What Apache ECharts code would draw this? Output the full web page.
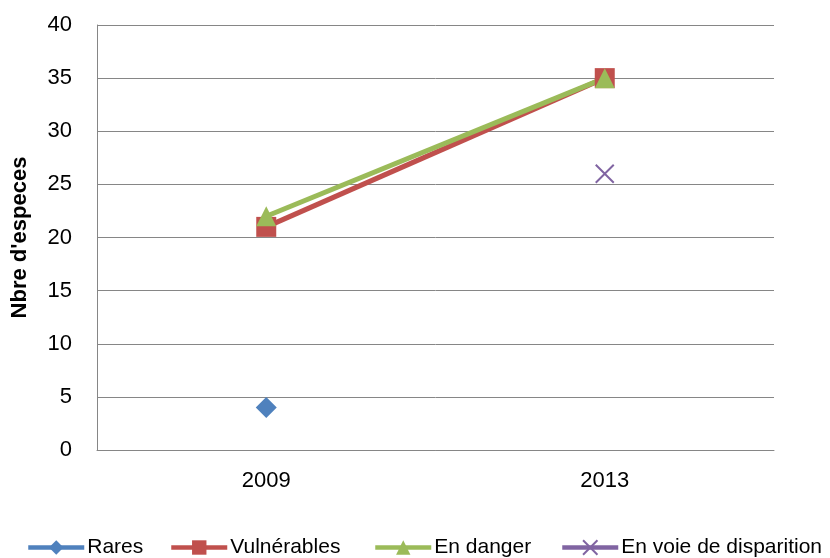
<!DOCTYPE html>
<html>
<head>
<meta charset="utf-8">
<script src="https://cdn.jsdelivr.net/npm/echarts@6/dist/echarts.min.js"></script>
<style>
  html, body { margin: 0; padding: 0; background: #fff; }
  #chart { width: 830px; height: 558px; }
</style>
</head>
<body>
<div id="chart"></div>
<script>
// Species counts per conservation status
const years = ['2009', '2013'];
const rares = [4, null];
const vulnerables = [21, 35];
const enDanger = [22, 35];
const enVoie = [null, 26];
const yTicks = { min: 0, max: 40, interval: 5 };

const FONT = 'Liberation Sans';
const crossPath = 'path://M0,0L10,10M10,0L0,10';

const chart = echarts.init(document.getElementById('chart'), null, { renderer: 'canvas' });

// one legend block per series so each entry sits at its own x
function legendAt(name, left) {
  return {
    data: [name],
    left: left,
    top: 537,
    padding: 0,
    itemWidth: 56,
    itemHeight: 18,
    itemGap: 0,
    lineStyle: { width: 4.5 },
    textStyle: { fontFamily: FONT, fontSize: 21, color: '#000', padding: [0, 0, 0, -2] }
  };
}

chart.setOption({
  animation: false,
  backgroundColor: '#fff',
  grid: { left: 97, right: 56, top: 25, bottom: 108, containLabel: false },
  legend: [
    legendAt('Rares', 26),
    legendAt('Vulnérables', 169),
    legendAt('En danger', 373),
    legendAt('En voie de disparition', 560)
  ],
  xAxis: {
    type: 'category',
    data: years,
    boundaryGap: true,
    axisLine: { lineStyle: { color: '#868686', width: 1 } },
    axisTick: { show: false },
    axisLabel: { fontFamily: FONT, fontSize: 22, color: '#000', margin: 20 }
  },
  yAxis: {
    type: 'value',
    min: yTicks.min,
    max: yTicks.max,
    interval: yTicks.interval,
    name: "Nbre d'especes",
    nameLocation: 'middle',
    nameGap: 66,
    nameTextStyle: { fontFamily: FONT, fontSize: 22, fontWeight: 'bold', color: '#000' },
    axisLine: { show: true, lineStyle: { color: '#868686', width: 1 } },
    axisTick: { show: false },
    axisLabel: { fontFamily: FONT, fontSize: 22, color: '#000', margin: 25 },
    splitLine: { lineStyle: { color: '#868686', width: 1 } }
  },
  series: [
    {
      name: 'Rares', type: 'line', data: rares,
      symbol: 'diamond', symbolSize: 21, showAllSymbol: true,
      itemStyle: { color: '#4F81BD' },
      lineStyle: { color: '#4F81BD', width: 4.5 }
    },
    {
      name: 'Vulnérables', type: 'line', data: vulnerables,
      symbol: 'rect', symbolSize: 20, showAllSymbol: true,
      itemStyle: { color: '#C0504D' },
      lineStyle: { color: '#C0504D', width: 5 }
    },
    {
      name: 'En danger', type: 'line', data: enDanger,
      symbol: 'triangle', symbolSize: 20, showAllSymbol: true,
      itemStyle: { color: '#9BBB59' },
      lineStyle: { color: '#9BBB59', width: 5 }
    },
    {
      name: 'En voie de disparition', type: 'line', data: enVoie,
      symbol: crossPath, symbolSize: 18, showAllSymbol: true,
      itemStyle: { color: 'rgba(0,0,0,0)', borderColor: '#8064A2', borderWidth: 2 },
      lineStyle: { color: '#8064A2', width: 4.5 }
    }
  ]
});
</script>
</body>
</html>
